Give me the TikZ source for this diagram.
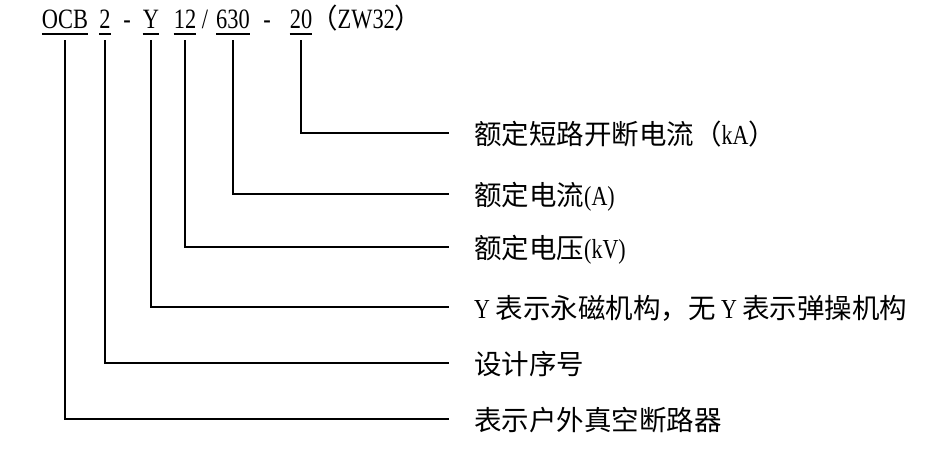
\documentclass[tikz,border=0pt]{standalone}
\usepackage{fontspec}
\setmainfont[FakeStretch=0.8]{Liberation Serif}
\newfontfamily\cjk{Noto Sans CJK SC}
\begin{document}
\begin{tikzpicture}[x=1pt,y=-1pt,
  code/.style={anchor=base,inner sep=0pt,font=\fontsize{28}{30}\selectfont},
  lbl/.style={anchor=base west,inner sep=0pt,font=\fontsize{27.5}{30}\selectfont},
  ln/.style={line width=1.5pt},
  ul/.style={line width=1.3pt}]
\useasboundingbox (0,0) rectangle (935,455);
% code line
\node[code] (ocb) at (65,28) {OCB};
\node[code] (two) at (105,28) {2};
\node[code] (d1) at (127,28) {-};
\node[code] (y) at (151,28) {Y};
\node[code] (twelve) at (185,28) {12};
\node[code] (sl) at (205,28) {/};
\node[code] (six) at (233,28) {630};
\node[code] (d2) at (267,28) {-};
\node[code] (twenty) at (301,28) {20};
\node[code,anchor=base west] (zw) at (310,28) {{\cjk\fontsize{27.5}{30}\selectfont （}ZW32{\cjk\fontsize{27.5}{30}\selectfont ）}};
% underlines
\foreach \n in {ocb,two,y,twelve,six,twenty}
  \draw[ul] ([yshift=-6pt]\n.base west) -- ([yshift=-6pt]\n.base east);
% ends
\coordinate (e1) at (449,133);
\coordinate (e2) at (449,194);
\coordinate (e3) at (449,247);
\coordinate (e4) at (449,307);
\coordinate (e5) at (449,363);
\coordinate (e6) at (449,419);
% labels
\node[lbl] (l1) at (474,144) {\cjk 额定短路开断电流（{\rmfamily kA}）};
\node[lbl] (l2) at (474,205) {{\cjk 额定电流}(A)};
\node[lbl] (l3) at (474,258) {{\cjk 额定电压}(kV)};
\node[lbl] (l4) at (474,318) {Y {\cjk 表示永磁机构，无} Y {\cjk 表示弹操机构}};
\node[lbl] (l5) at (474,374) {\cjk 设计序号};
\node[lbl] (l6) at (474,430) {\cjk 表示户外真空断路器};
% connectors
\draw[ln] ([yshift=-12pt]twenty.base) |- (e1);
\draw[ln] ([yshift=-12pt]six.base) |- (e2);
\draw[ln] ([yshift=-12pt]twelve.base) |- (e3);
\draw[ln] ([yshift=-12pt]y.base) |- (e4);
\draw[ln] ([yshift=-12pt]two.base) |- (e5);
\draw[ln] ([yshift=-12pt]ocb.base) |- (e6);
\end{tikzpicture}
\end{document}
